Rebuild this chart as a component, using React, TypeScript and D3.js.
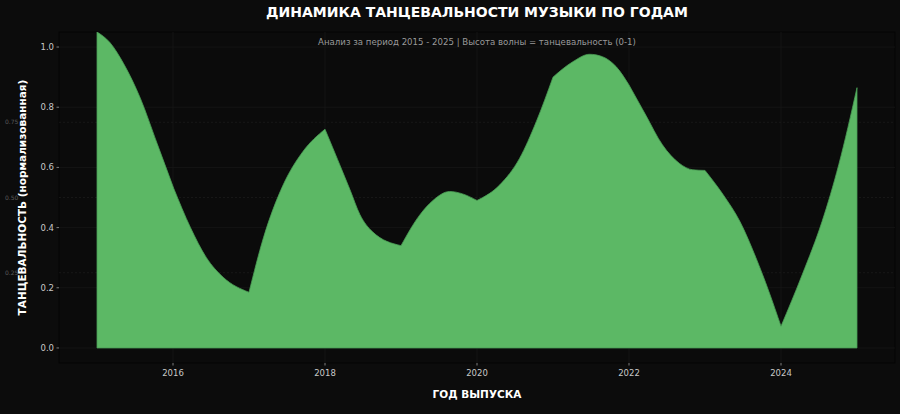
import React from "react";
import * as d3 from "d3";

// Curve (year, normalized danceability)
const waveYears = [
  2015.0, 2015.17, 2015.35, 2015.57, 2015.79, 2016.01, 2016.23, 2016.44, 2016.66, 2017.0,
  2017.19, 2017.45, 2017.71, 2018.0, 2018.33, 2018.46, 2018.63, 2019.0, 2019.25, 2019.42,
  2019.64, 2019.81, 2020.0, 2020.3, 2020.56, 2020.78, 2021.0, 2021.26, 2021.48, 2021.65,
  2021.83, 2022.0, 2022.22, 2022.44, 2022.66, 2022.84, 2023.0, 2023.24, 2023.46, 2023.67,
  2023.84, 2024.0, 2024.28, 2024.54, 2024.76, 2025.0,
];
const waveValues = [
  1.05, 1.015, 0.945, 0.83, 0.68, 0.53, 0.4, 0.3, 0.235, 0.185,
  0.366, 0.542, 0.653, 0.727, 0.525, 0.443, 0.385, 0.34, 0.443, 0.49,
  0.52, 0.512, 0.49, 0.542, 0.63, 0.752, 0.9, 0.951, 0.976, 0.968,
  0.935, 0.874, 0.774, 0.675, 0.614, 0.592, 0.59, 0.509, 0.42, 0.3,
  0.188, 0.072, 0.244, 0.42, 0.609, 0.865,
];
const yearBreaks = [2015, 2016, 2017, 2018, 2019, 2020, 2021, 2022, 2023, 2024, 2025];
const xTicks = [2016, 2018, 2020, 2022, 2024];
const yTicks = [0, 0.2, 0.4, 0.6, 0.8, 1.0];
const refLevels = [0.25, 0.5, 0.75];

const TITLE = "ДИНАМИКА ТАНЦЕВАЛЬНОСТИ МУЗЫКИ ПО ГОДАМ";
const SUBTITLE = "Анализ за период 2015 - 2025 | Высота волны = танцевальность (0-1)";
const X_LABEL = "ГОД ВЫПУСКА";
const Y_LABEL = "ТАНЦЕВАЛЬНОСТЬ (нормализованная)";

const W = 900;
const H = 414;
const M = { left: 59, right: 5, top: 32, bottom: 51 };

type Pt = { yr: number; v: number };

export default function App() {
  const x = d3.scaleLinear().domain([2014.5, 2025.5]).range([M.left, W - M.right]);
  const y = d3.scaleLinear().domain([-0.05, 1.05]).range([H - M.bottom, M.top]);
  const data: Pt[] = waveYears.map((yr, i) => ({ yr, v: waveValues[i] }));

  // Build one outline: smooth inside each year, sharp joins at year points
  const p = d3.path();
  let started = false;
  const ctx: any = {
    moveTo: (a: number, b: number) => {
      if (!started) {
        p.moveTo(a, b);
        started = true;
      } else p.lineTo(a, b);
    },
    lineTo: (a: number, b: number) => p.lineTo(a, b),
    bezierCurveTo: (a: number, b: number, c: number, d: number, e: number, f: number) =>
      p.bezierCurveTo(a, b, c, d, e, f),
    closePath: () => {},
  };
  const line = d3
    .line<Pt>()
    .x((d) => x(d.yr))
    .y((d) => y(d.v))
    .curve(d3.curveMonotoneX)
    .context(ctx);
  for (let i = 0; i < yearBreaks.length - 1; i++) {
    const seg = data.filter((d) => d.yr >= yearBreaks[i] - 0.02 && d.yr <= yearBreaks[i + 1] + 0.02);
    line(seg);
  }
  p.lineTo(x(waveYears[waveYears.length - 1]), y(0));
  p.lineTo(x(waveYears[0]), y(0));
  p.closePath();

  const font = "DejaVu Sans, sans-serif";
  const cx = (M.left + W - M.right) / 2;
  const cy = (M.top + H - M.bottom) / 2;
  return (
    <svg
      width={W}
      height={H}
      style={{ position: "absolute", left: 0, top: 0, background: "#0c0c0c" }}
      fontFamily={font}
    >
      <rect x={0} y={0} width={W} height={H} fill="#0c0c0c" />
      <defs>
        <clipPath id="plotclip">
          <rect x={M.left} y={M.top} width={W - M.left - M.right} height={H - M.top - M.bottom} />
        </clipPath>
      </defs>
      <rect
        x={M.left}
        y={M.top}
        width={W - M.left - M.right}
        height={H - M.top - M.bottom}
        fill="#0b0b0b"
        stroke="#050505"
        strokeWidth={1}
      />
      {/* grid */}
      {xTicks.map((t) => (
        <line key={"gx" + t} x1={x(t)} x2={x(t)} y1={M.top} y2={H - M.bottom} stroke="#171717" strokeWidth={0.8} />
      ))}
      {yTicks.map((t) => (
        <line key={"gy" + t} x1={M.left} x2={W - M.right} y1={y(t)} y2={y(t)} stroke="#171717" strokeWidth={0.8} />
      ))}
      {refLevels.map((t) => (
        <line key={"rl" + t} x1={M.left} x2={W - M.right} y1={y(t)} y2={y(t)} stroke="#1c1c1c" strokeWidth={0.7} strokeDasharray="2,2" />
      ))}
      <g clipPath="url(#plotclip)">
        <path d={p.toString()} fill="#5cb865" stroke="#4a9e55" strokeWidth={0.8} strokeLinejoin="miter" />
      </g>
      {/* subtitle */}
      <text x={cx} y={45} textAnchor="middle" fontSize={8.6} fill="#9a9a9a">
        {SUBTITLE}
      </text>
      {/* y ticks */}
      {yTicks.map((t) => (
        <g key={"yt" + t}>
          <line x1={M.left - 2.5} x2={M.left} y1={y(t)} y2={y(t)} stroke="#999999" strokeWidth={0.8} />
          <text x={M.left - 5} y={y(t)} dy="0.35em" textAnchor="end" fontSize={8.5} fill="#c8c8c8">
            {t.toFixed(1)}
          </text>
        </g>
      ))}
      {refLevels.map((t) => (
        <text key={"rt" + t} x={5} y={y(t)} dy="0.35em" fontSize={6} fill="#5a5a5a">
          {t.toFixed(2)}
        </text>
      ))}
      {/* x ticks */}
      {xTicks.map((t) => (
        <g key={"xt" + t}>
          <line x1={x(t)} x2={x(t)} y1={H - M.bottom} y2={H - M.bottom + 2.5} stroke="#999999" strokeWidth={0.8} />
          <text x={x(t)} y={H - M.bottom + 13} textAnchor="middle" fontSize={8.5} fill="#c8c8c8">
            {t}
          </text>
        </g>
      ))}
      <text x={cx} y={398} textAnchor="middle" fontSize={10.5} fontWeight="bold" fill="#ffffff">
        {X_LABEL}
      </text>
      <text
        transform={`translate(26,${cy}) rotate(-90)`}
        textAnchor="middle"
        fontSize={10.5}
        fontWeight="bold"
        fill="#ffffff"
      >
        {Y_LABEL}
      </text>
      <text x={cx} y={17} textAnchor="middle" fontSize={14} fontWeight="bold" fill="#ffffff">
        {TITLE}
      </text>
    </svg>
  );
}
